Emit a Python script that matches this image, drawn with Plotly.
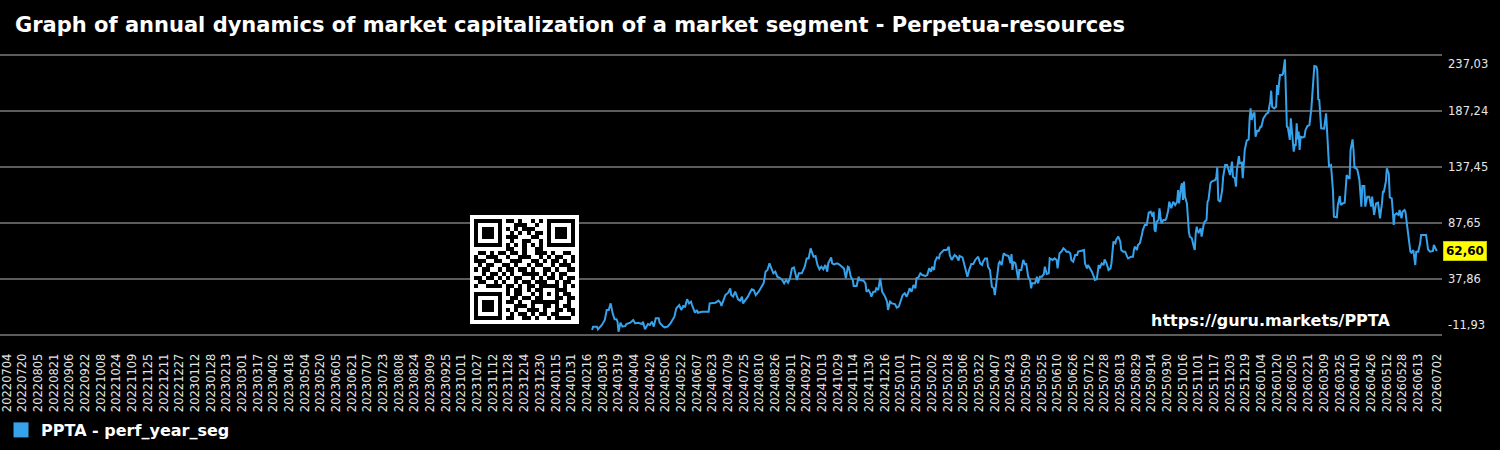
import pandas as pd
import plotly.graph_objects as go

# ---------------- data ----------------
start_date = "2022-07-04"
end_date = "2026-07-02"
series_name = "PPTA - perf_year_seg"
title_text = "Graph of annual dynamics of market capitalization of a market segment - Perpetua-resources"
url_text = "https://guru.markets/PPTA"

# day offsets from start_date and values
days_a = [597,598,602,603,607,610,612,614,616,618,620,622,623,624,626,628,631,632,636,639,
          641,644,648,649,651,654,656,658,660,662,665,666,669,671,674,677,679,681,683,686,
          688,690,692,694,696,698,699,702,704,705,709,712,716,717,721,723,726,728,729,731,
          733,736,738,739,741,743,746,748,750,751,754,756,758,760,762,764,767,768,770,772,
          773,774,776,778,780,782,784,786,789,791,793,795,797,799,801,803,806]
vals_a = [-7.5,-4.5,-4.5,-6.9,-3.0,1.4,10.3,10.3,16.2,7.3,2.0,2.0,-0.1,-9.0,-1.0,-4.5,-3.9,-2.2,-1.0,1.4,
          -1.6,-1.0,-2.2,-0.1,-6.9,-2.2,-3.0,-0.1,-4.5,2.9,2.9,-1.0,-3.9,-5.1,-4.5,-1.6,1.4,4.4,11.8,14.7,
          10.3,13.9,13.3,19.8,16.2,17.7,14.7,7.9,10.3,7.9,8.8,8.8,8.8,16.2,16.2,16.8,18.6,16.8,13.9,19.8,
          23.6,25.7,29.6,23.6,22.2,26.6,19.8,18.6,22.2,16.2,19.2,22.2,25.7,28.7,28.1,23.6,26.6,28.1,31.0,34.0,
          38.5,44.4,45.9,51.8,47.3,42.9,44.4,39.9,38.5,37.0,34.0,37.0,34.6,38.5,47.3,48.2,37.0]

days_b = [808,811,814,816,818,820,823,825,827,829,831,833,835,837,838,841,842,844,847,849,
          852,854,856,858,859,861,863,864,867,869,870,872,874,876,877,879,881,882,884,886,
          887,889,891,893,894,896,898,899,901,903,906,908,910,912,914,916,918,920,921,923,
          925,927,928,930,932,934,937,939,941,943,944,946,947,949,951,952,954,956,959,961,
          962,964,967,969,971,972,975,977,978,980,982,984,986,988,991,993,995,996,998,1000,
          1001,1003,1005,1007,1008,1010,1012,1013,1015,1017,1019,1022]
vals_b = [42.9,42.9,48.8,56.2,56.2,65.1,57.7,58.3,50.3,46.5,48.8,46.5,50.3,44.4,51.8,57.1,51.8,50.9,51.8,50.9,
          48.2,47.3,38.5,48.8,48.2,39.9,37.0,31.6,31.6,39.9,37.0,37.0,36.4,34.0,26.6,28.1,25.1,22.2,26.6,26.6,
          29.6,28.1,38.5,26.6,25.1,22.2,17.7,10.3,17.7,16.2,15.6,12.4,13.3,17.7,23.6,25.1,22.2,26.6,29.6,26.6,
          32.5,29.6,38.5,39.3,42.9,41.4,40.5,41.4,47.3,44.4,48.8,45.9,53.3,57.1,56.2,60.1,62.2,63.6,63.6,66.6,
          59.2,54.8,59.2,57.7,54.2,58.3,57.1,50.3,48.2,39.9,46.5,51.2,51.2,54.8,57.7,51.8,50.3,53.3,56.2,56.2,
          48.8,45.9,31.0,29.6,23.6,37.0,51.8,53.3,50.3,60.7,59.2,58.3]

days_c = [1024,1025,1026,1027,1029,1030,1032,1033,1035,1037,1039,1040,1042,1044,1045,1046,1049,1051,1052,1054,
          1056,1058,1059,1061,1063,1064,1067,1069,1071,1072,1074,1076,1078,1080,1081,1083,1085,1086,1088,1090,
          1092,1093,1097,1099,1100,1102,1103,1105,1107,1109,1110,1112,1114,1115,1117,1119,1120,1122,1124,1126,
          1127,1129,1131,1132,1134,1136,1137,1139,1141,1143,1144,1147,1149,1150,1151,1153,1154,1156,1157,1158,
          1159,1161,1163,1164,1165,1167,1169,1170,1171,1172,1173,1175,1176,1177,1178,1180,1182,1183,1185,1186,
          1187,1188,1190,1192,1194,1195,1196,1197,1198,1199,1200,1201,1202,1204,1205,1206,1207,1209,1211,1212,
          1213,1214,1215,1216,1218,1219,1221,1222,1224,1225,1226,1228,1229,1231,1233,1234,1235,1236,1238]
vals_c = [51.8,60.1,45.9,53.3,51.8,47.3,37.0,45.9,45.9,54.8,50.3,51.8,39.9,37.0,29.6,34.0,34.0,39.9,34.0,39.9,
          39.9,42.3,48.8,42.3,42.9,56.2,54.8,56.2,54.8,47.3,60.7,62.2,65.1,63.6,62.2,62.2,60.7,54.8,53.3,59.2,
          59.2,62.2,63.0,63.6,51.8,47.3,50.3,47.3,44.4,39.9,37.0,37.6,50.3,47.3,51.8,50.3,55.3,51.8,45.9,47.3,
          51.8,71.1,69.6,73.1,75.5,71.1,63.6,62.2,62.2,57.7,56.2,57.7,57.7,64.2,66.6,63.6,68.1,69.6,75.5,77.0,
          81.4,85.9,85.9,93.3,96.8,97.7,93.3,97.7,81.4,80.0,88.8,90.3,100.7,93.3,87.4,90.3,90.3,91.8,99.2,106.6,
          102.2,100.7,106.6,103.6,106.6,117.0,105.1,117.0,120.0,122.9,108.1,124.4,111.1,105.1,87.4,80.0,75.5,74.0,66.6,63.6,
          78.5,84.4,80.0,79.1,82.9,75.5,85.9,88.8,90.3,106.6,108.1,122.9,124.4,125.0,125.9,128.8,137.1,108.1,106.6]

days_d = [1240,1241,1243,1245,1246,1248,1250,1251,1253,1254,1255,1257,1258,1260,1261,1262,1263,1265,1267,1268,
          1269,1270,1272,1273,1274,1276,1277,1279,1280,1282,1284,1285,1287,1289,1290,1291,1293,1295,1296,1297,
          1298,1299,1301,1302,1304,1305,1306,1307,1309,1310,1312,1313,1314,1315,1316,1317,1318,1319,1320,1322,
          1324,1325,1327,1329,1331,1332,1333,1334,1336,1337,1338,1339,1341,1343,1344,1346,1347,1348,1349,1351,
          1353,1354,1357,1358,1360,1361,1363,1365,1366,1367,1369,1370,1371,1373,1374,1375,1376,1378,1380,1381,
          1382,1383,1385,1386,1388,1390,1392,1393,1394,1395,1397,1399,1400,1401,1403,1404,1405,1407,1408,1410,
          1411,1413,1414,1415,1416,1418,1420,1421,1423,1424,1426,1427,1428,1430,1432,1433,1435,1437,1438,1440,
          1442,1443,1445,1448,1449,1450,1452,1454,1455,1456,1459]
vals_d = [117.0,128.8,139.2,139.2,136.3,130.3,142.2,128.8,127.4,120.0,134.8,147.2,140.7,141.3,127.4,143.7,152.6,160.9,162.0,180.7,
          189.6,179.2,185.2,185.2,164.4,170.3,168.9,173.3,173.3,180.7,183.7,184.6,185.8,195.5,205.3,191.1,189.6,191.1,210.4,201.5,
          211.8,219.2,219.2,220.1,233.2,205.9,173.3,172.7,161.5,180.7,164.4,151.1,157.0,157.0,176.3,162.0,168.9,152.6,164.4,163.8,
          164.4,170.3,173.9,174.8,189.6,205.9,211.8,227.2,226.7,223.7,197.0,197.6,171.8,171.2,171.5,185.2,167.4,152.6,138.3,139.2,
          117.0,93.3,92.7,103.6,111.6,103.6,105.1,105.7,117.0,130.3,127.4,127.4,152.6,162.0,152.6,136.3,137.1,134.8,125.9,114.0,
          102.2,120.5,120.5,102.2,111.1,111.1,102.2,111.1,102.2,94.8,105.1,105.7,99.2,91.8,105.1,115.5,115.5,124.4,136.3,131.2,
          110.5,109.6,99.2,85.9,94.8,96.2,94.8,99.2,91.8,97.7,99.2,97.7,90.3,75.5,62.2,61.3,63.6,50.3,62.2,62.2,
          69.6,77.0,77.0,77.0,71.1,64.2,62.2,63.0,62.8,68.1,62.6]

y_ticks = [-11.93, 37.86, 87.65, 137.45, 187.24, 237.03]
last_value = 62.60

qr_rows = [
    "1111111" + "0" + "110100101" + "0" + "1111111",
    "1000001" + "0" + "001110010" + "0" + "1000001",
    "1011101" + "0" + "101011100" + "0" + "1011101",
    "1011101" + "0" + "010101011" + "0" + "1011101",
    "1011101" + "0" + "111000110" + "0" + "1011101",
    "1000001" + "0" + "010011001" + "0" + "1000001",
    "1111111" + "0" + "101010101" + "0" + "1111111",
    "0000000" + "0" + "110010011" + "0" + "0000000",
    "011010" + "1" + "101101001110100110",
    "100111" + "0" + "010011100101011001",
    "111001" + "1" + "001110011010110101",
    "010110" + "0" + "110100101100101110",
    "101100" + "1" + "011011010011010011",
    "001011" + "0" + "101001111010101100",
    "110110" + "1" + "010110010101101011",
    "011001" + "0" + "100101101110010110",
    "100111" + "1" + "011010110" + "11111" + "0101",
    "0000000" + "0" + "1" + "0110101" + "10001" + "1100",
    "1111111" + "0" + "10110010" + "10101" + "0110",
    "1000001" + "0" + "01101101" + "10001" + "1011",
    "1011101" + "0" + "11010011" + "11111" + "0010",
    "1011101" + "0" + "00111010011010110",
    "1011101" + "0" + "10100111010011011",
    "1000001" + "0" + "01011010110110001",
    "1111111" + "0" + "11001101001011110",
]

# ---------------- styling ----------------
W, H = 1500, 450
GRID_TOP_PX, GRID_BOT_PX = 55, 335          # pixel rows of first / last grid line
PAD_PX = 4                                   # extra pixels so edge grid lines are drawn
PLOT_L, PLOT_R = 0, 1442
PLOT_T, PLOT_B = GRID_TOP_PX - PAD_PX, GRID_BOT_PX + PAD_PX
FONT = "DejaVu Sans"
LINE_COLOR = "#36a2eb"
TXT = "#e6e6e6"

units_per_px = (y_ticks[-1] - y_ticks[0]) / (GRID_BOT_PX - GRID_TOP_PX)
y_range = [y_ticks[0] - PAD_PX * units_per_px, y_ticks[-1] + PAD_PX * units_per_px]

day_offsets = days_a + days_b + days_c + days_d
values = vals_a + vals_b + vals_c + vals_d
start = pd.Timestamp(start_date)
end = pd.Timestamp(end_date)
x_dates = start + pd.to_timedelta(day_offsets, unit="D")

tick_dates = [t for t in pd.date_range(start, end, freq="16D") if (end - t).days >= 16]
tick_dates.append(end)
tick_text = [t.strftime("%Y%m%d") for t in tick_dates]

px_per_day = 0.98
x_first_px = 7
x0 = start - pd.Timedelta(days=(x_first_px - PLOT_L) / px_per_day)
x1 = start + pd.Timedelta(days=(PLOT_R - x_first_px) / px_per_day)

def px_to_paper_x(px):
    return (px - PLOT_L) / (PLOT_R - PLOT_L)

def px_to_paper_y(py):
    return (PLOT_B - py) / (PLOT_B - PLOT_T)

fig = go.Figure()
fig.add_trace(go.Scatter(
    x=x_dates, y=values, mode="lines",
    line=dict(color=LINE_COLOR, width=2),
    showlegend=False, hoverinfo="skip",
))
fig.add_trace(go.Scatter(
    x=[None], y=[None], mode="markers", name="<b>" + series_name + "</b>",
    marker=dict(symbol="square", size=15, color=LINE_COLOR),
))

# QR code block (with one module of quiet zone)
n = len(qr_rows)
qr_z = [[0] * (n + 2)]
for r in qr_rows:
    row = [int(c) for c in r[:n].ljust(n, "0")]
    qr_z.append([0] + row + [0])
qr_z.append([0] * (n + 2))
fig.add_trace(go.Heatmap(
    z=qr_z, xaxis="x2", yaxis="y2", showscale=False, hoverinfo="skip",
    colorscale=[[0, "#ffffff"], [1, "#000000"]], zmin=0, zmax=1,
))

annotations = []
for i, v in enumerate(y_ticks):
    shift = 0
    if i == 0:
        shift = 10
    elif i == len(y_ticks) - 1:
        shift = -9
    annotations.append(dict(
        text=f"{v:.2f}".replace(".", ","), xref="paper", x=1, xanchor="left", xshift=4,
        yref="y", y=v, yanchor="middle", yshift=shift, showarrow=False,
        font=dict(family=FONT, size=11.5, color=TXT),
    ))
annotations.append(dict(
    text="<b>" + f"{last_value:.2f}".replace(".", ",") + "</b>",
    xref="paper", x=1, xanchor="left", xshift=1, yref="y", y=last_value, yanchor="middle",
    showarrow=False, bgcolor="#ffff00", bordercolor="#c8c800", borderwidth=1, borderpad=2,
    font=dict(family=FONT, size=12, color="#000000"),
))
annotations.append(dict(
    text="<b>" + url_text + "</b>", xref="paper", x=px_to_paper_x(1149), xanchor="left",
    yref="paper", y=px_to_paper_y(320), yanchor="middle", showarrow=False,
    font=dict(family=FONT, size=16, color="#ffffff"),
))

fig.update_layout(
    width=W, height=H,
    margin=dict(l=PLOT_L, r=W - PLOT_R, t=PLOT_T, b=H - PLOT_B, pad=0, autoexpand=False),
    paper_bgcolor="#000000", plot_bgcolor="#000000",
    font=dict(family=FONT, color=TXT),
    title=dict(text="<b>" + title_text + "</b>", xref="container", x=15 / W, xanchor="left",
               yref="container", y=1 - 25 / H, yanchor="middle",
               font=dict(family=FONT, size=21, color="#ffffff")),
    showlegend=True,
    legend=dict(orientation="h", xref="container", x=1 / W, xanchor="left",
                yref="container", y=1 - 430 / H, yanchor="middle",
                bgcolor="rgba(0,0,0,0)", font=dict(family=FONT, size=16, color="#ffffff")),
    xaxis=dict(type="date", range=[x0, x1], tickmode="array", tickvals=tick_dates, ticktext=tick_text,
               tickangle=-90, tickfont=dict(family=FONT, size=11.5, color=TXT),
               ticklabeloverflow="allow",
               showgrid=False, zeroline=False, showline=False,
               ticks="outside", ticklen=13 - PAD_PX, tickcolor="rgba(0,0,0,0)", automargin=False),
    yaxis=dict(range=y_range, tickmode="array", tickvals=y_ticks,
               showticklabels=False, showgrid=True, gridcolor="#5c5c5c", gridwidth=2,
               zeroline=False, showline=False, automargin=False),
    xaxis2=dict(domain=[px_to_paper_x(470), px_to_paper_x(579)], anchor="y2", visible=False,
                showgrid=False, zeroline=False),
    yaxis2=dict(domain=[px_to_paper_y(324), px_to_paper_y(215)], anchor="x2", visible=False,
                autorange="reversed", showgrid=False, zeroline=False),
    annotations=annotations,
)

fig.write_html("out.html")
